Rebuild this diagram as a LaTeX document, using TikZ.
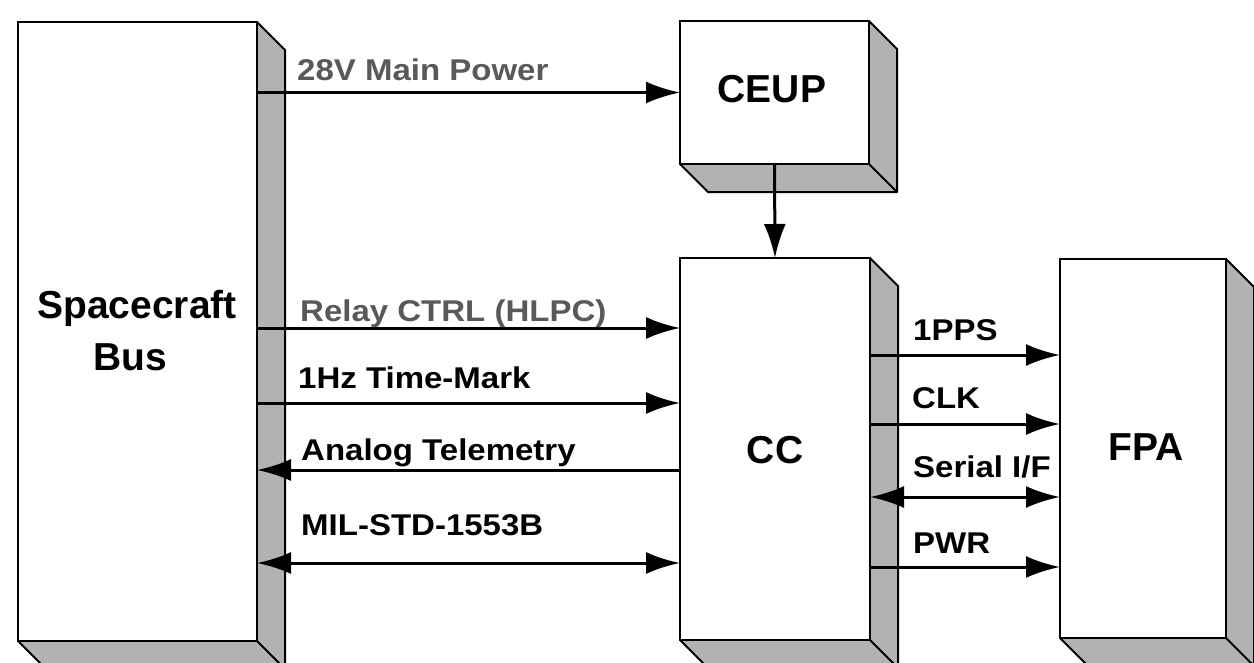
\documentclass[tikz,border=0pt]{standalone}
\usepackage{fontspec}
\setmainfont{Liberation Sans}
\newfontfamily\labfont[FakeStretch=1.1]{Liberation Sans}
\usetikzlibrary{arrows.meta,calc}
\tikzset{
  face/.style={draw=black, line width=2pt, fill=white, inner sep=0pt, outer sep=0pt},
  sidefill/.style={fill=black!30},
  sideline/.style={draw=black, line width=2pt, line join=round},
  boxtext/.style={font=\fontsize{39}{44}\selectfont\bfseries, inner sep=0pt},
  lab/.style={font=\labfont\fontsize{30}{36}\selectfont\bfseries, inner sep=0pt, anchor=base west},
  labgray/.style={lab, text=black!65},
  sig/.style={line width=3pt, -{Latex[length=34pt,width=22pt]}},
  sigboth/.style={line width=3pt, {Latex[length=34pt,width=22pt]}-{Latex[length=34pt,width=22pt]}},
}
\newcommand\extrude[1]{%
  \fill[sidefill] (#1.north east) -- ++(28,28) -- ($(#1.south east)+(28,28)$) -- ($(#1.south west)+(28,28)$) -- (#1.south west) -- (#1.south east) -- cycle;
  \draw[sideline] (#1.north east) -- ++(28,28) -- ($(#1.south east)+(28,28)$) -- ($(#1.south west)+(28,28)$) -- (#1.south west);
  \draw[sideline] (#1.south east) -- ++(28,28);
  \draw[line width=2pt] (#1.south west) rectangle (#1.north east);
}
\begin{document}
\begin{tikzpicture}[x=1pt,y=-1pt]
\useasboundingbox[fill=white] (0,0) rectangle (1254,662);
% boxes
\node[face, minimum width=239pt, minimum height=619pt] (sc) at (137.5,331.5) {};
\extrude{sc}
\node[face, minimum width=189pt, minimum height=143pt] (ceup) at (774.5,92.5) {};
\extrude{ceup}
\node[face, minimum width=190pt, minimum height=382pt] (cc) at (775,449) {};
\extrude{cc}
\node[face, minimum width=166pt, minimum height=379pt] (fpa) at (1143,448.5) {};
\extrude{fpa}
% box texts
\node[boxtext, anchor=base] (tsc1) at (137,318) {Spacecraft};
\node[boxtext, anchor=base] (tsc2) at (130,370) {Bus};
\node[boxtext, anchor=base] (tceup) at (772,102) {CEUP};
\node[boxtext, anchor=base] (tcc) at (775,463) {CC};
\node[boxtext, anchor=base] (tfpa) at (1146,460) {FPA};
% signal rows
\coordinate (yRelay) at (0,328);
\coordinate (yHz) at (0,403);
\coordinate (yAna) at (0,470);
\coordinate (yMil) at (0,563);
\coordinate (yPps) at (0,355);
\coordinate (yClk) at (0,424);
\coordinate (ySer) at (0,497);
\coordinate (yPwr) at (0,567);
% left connectors
\draw[sig] (sc.east |- ceup.west) -- (ceup.west);
\draw[sig] (ceup.south) -- (cc.north);
\draw[sig] (sc.east |- yRelay) -- (cc.west |- yRelay);
\draw[sig] (sc.east |- yHz) -- (cc.west |- yHz);
\draw[sig] (cc.west |- yAna) -- (sc.east |- yAna);
\draw[sigboth] (sc.east |- yMil) -- (cc.west |- yMil);
% right connectors
\draw[sig] (cc.east |- yPps) -- (fpa.west |- yPps);
\draw[sig] (cc.east |- yClk) -- (fpa.west |- yClk);
\draw[sigboth] (cc.east |- ySer) -- (fpa.west |- ySer);
\draw[sig] (cc.east |- yPwr) -- (fpa.west |- yPwr);
% labels
\node[labgray] (l28) at (297,80) {28V Main Power};
\node[labgray] (lrel) at (300,321) {Relay CTRL (HLPC)};
\node[lab] (lhz) at (298,388) {1Hz Time-Mark};
\node[lab] (lana) at (301,460) {Analog Telemetry};
\node[lab] (lmil) at (301,535) {MIL-STD-1553B};
\node[lab] (lpps) at (913,340) {1PPS};
\node[lab] (lclk) at (912,408) {CLK};
\node[lab] (lser) at (913,477) {Serial I/F};
\node[lab] (lpwr) at (913,553) {PWR};
\end{tikzpicture}
\end{document}
